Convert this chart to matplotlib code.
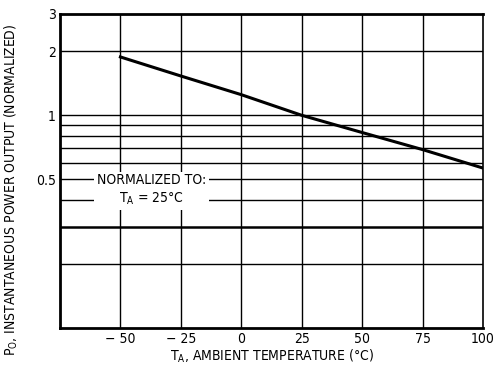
import numpy as np
import matplotlib
matplotlib.use("Agg")
from matplotlib import pyplot as plt
from matplotlib.ticker import FixedLocator, NullLocator

plt.rcParams['font.family'] = ['DejaVu Sans']
plt.rcParams['font.stretch'] = 'condensed'

temps = [-50, -25, 0, 25, 50, 75, 100]
power = [1.88, 1.53, 1.25, 1.0, 0.83, 0.69, 0.565]

x_ticks = [-50, -25, 0, 25, 50, 75, 100]
x_labels = ['\u2212 50', '\u2212 25', '0', '25', '50', '75', '100']
y_ticks = [0.5, 1, 2, 3]
y_labels = ['0.5', '1', '2', '3']
y_grid = [0.2, 0.3, 0.4, 0.5, 0.6, 0.7, 0.8, 0.9, 1, 2]

fig = plt.figure(figsize=(5, 3.72), dpi=100)
ax = fig.add_axes([0.12, 0.118, 0.846, 0.845])
ax.set_yscale('log')
ax.set_xlim(-75, 100)
ax.set_ylim(0.1, 3)

for v in y_grid:
    ax.axhline(v, color='black', lw=1.8 if v == 0.3 else 1.0, zorder=1)
for t in x_ticks[:-1]:
    ax.axvline(t, color='black', lw=1.0, zorder=1)

ax.plot(temps, power, color='black', lw=2.2, zorder=3)

ax.xaxis.set_major_locator(FixedLocator(x_ticks))
ax.set_xticklabels(x_labels)
ax.yaxis.set_major_locator(FixedLocator(y_ticks))
ax.yaxis.set_minor_locator(NullLocator())
ax.set_yticklabels(y_labels)
ax.tick_params(length=0, labelsize=10, pad=3)

for s in ['left', 'bottom', 'top']:
    ax.spines[s].set_linewidth(2.0)
ax.spines['right'].set_linewidth(1.2)

ax.text(-37, 0.445, 'NORMALIZED TO:\nT$_\\mathregular{A}$ = 25\u00b0C', ha='center', va='center',
        fontsize=10, linespacing=1.25, zorder=4,
        bbox=dict(facecolor='white', edgecolor='none', pad=2))

ax.set_xlabel('T$_\\mathregular{A}$, AMBIENT TEMPERATURE (\u00b0C)', fontsize=10, labelpad=1)
ax.set_ylabel('P$_\\mathregular{O}$, INSTANTANEOUS POWER OUTPUT (NORMALIZED)', fontsize=10)
ax.yaxis.set_label_coords(-0.095, 0.44)

fig.savefig('out.png', dpi=100)
